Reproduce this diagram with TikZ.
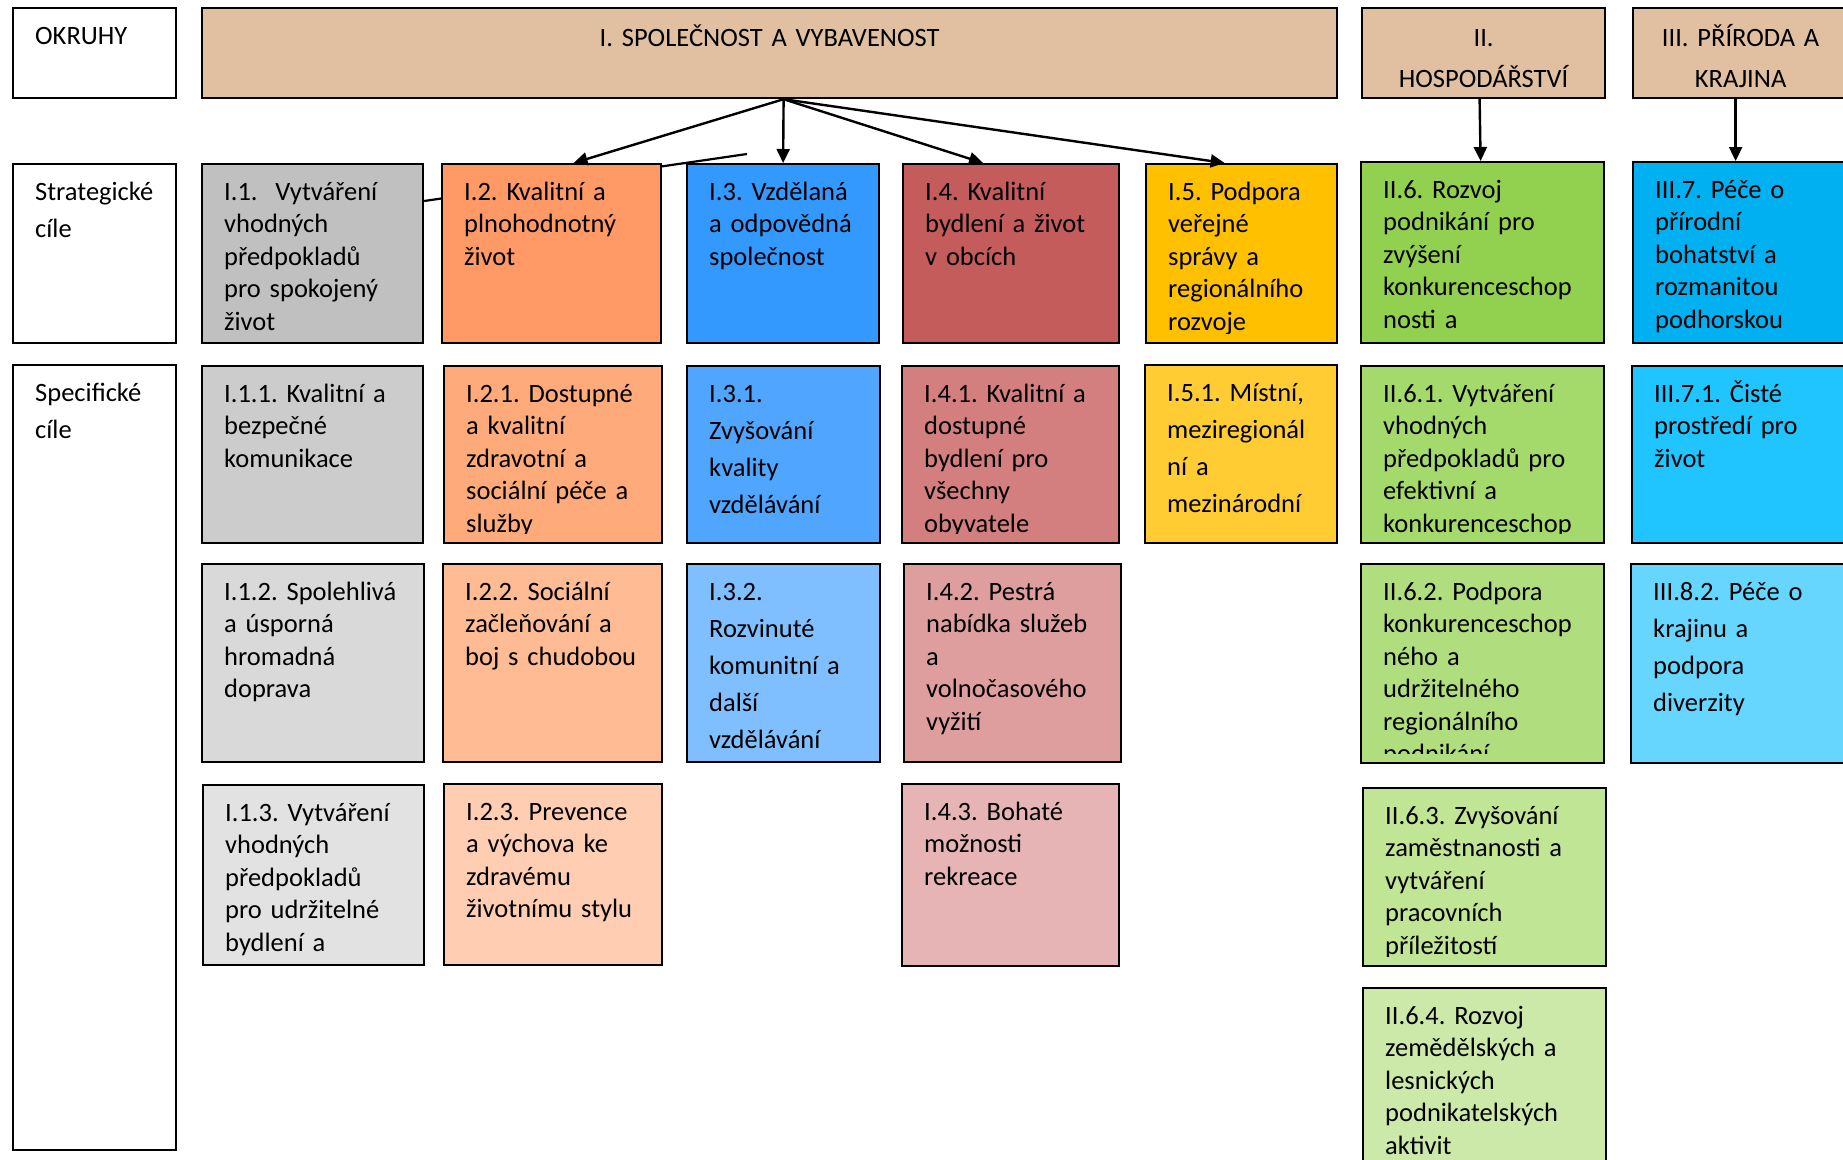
\documentclass[tikz,border=0pt]{standalone}
\usepackage{fontspec}
\setmainfont{Carlito}
\frenchspacing
\usetikzlibrary{arrows.meta}

\definecolor{tan}{RGB}{224,192,160}
\definecolor{gra0}{RGB}{192,192,192}
\definecolor{gra1}{RGB}{204,204,204}
\definecolor{gra2}{RGB}{217,217,217}
\definecolor{gra3}{RGB}{226,226,226}
\definecolor{ora0}{RGB}{255,153,102}
\definecolor{ora1}{RGB}{255,170,122}
\definecolor{ora2}{RGB}{255,187,148}
\definecolor{ora3}{RGB}{255,206,178}
\definecolor{blu0}{RGB}{51,153,255}
\definecolor{blu1}{RGB}{80,166,255}
\definecolor{blu2}{RGB}{128,191,255}
\definecolor{red0}{RGB}{197,92,92}
\definecolor{red1}{RGB}{212,127,127}
\definecolor{red2}{RGB}{223,158,158}
\definecolor{red3}{RGB}{230,180,180}
\definecolor{yel0}{RGB}{255,192,0}
\definecolor{yel1}{RGB}{255,204,51}
\definecolor{gre0}{RGB}{146,208,80}
\definecolor{gre1}{RGB}{164,217,108}
\definecolor{gre2}{RGB}{176,222,126}
\definecolor{gre3}{RGB}{192,229,148}
\definecolor{gre4}{RGB}{204,233,170}
\definecolor{cya0}{RGB}{0,176,240}
\definecolor{cya1}{RGB}{32,196,255}
\definecolor{cya2}{RGB}{102,214,255}

\begin{document}
\begin{tikzpicture}[
    x = 1pt, y = -1pt, % one unit per pixel, y down
    >= {Triangle[length=14pt,width=13pt]}, % arrow head style
    line width = 2.4pt
  ]

  \tikzset{
    box/.style={draw=black, line width=2.2pt, rectangle, inner sep=0pt, anchor=north west},
    goal/.style n args={3}{box, fill=#1,
      path picture={
        \clip ([yshift=10pt]path picture bounding box.south west) rectangle (path picture bounding box.north east);
        \node[anchor=base west, inner sep=0pt, text width=320pt, align=left,
              font=\fontsize{26.5}{#2}\selectfont]
          at ([xshift=21pt,yshift=-36pt]path picture bounding box.north west) {#3};
      }},
    area/.style n args={2}{box, fill=#1,
      path picture={
        \node[anchor=base, inner sep=0pt, text width=400pt, align=center,
              font=\fontsize{26.5}{40.5}\selectfont]
          at ([yshift=-38.5pt]path picture bounding box.north) {#2};
      }}
  }

\useasboundingbox (0,0) rectangle (1843,1159);

% okruhy
\node[goal={white}{37}{\vspace{2.3pt}OKRUHY}, minimum width=163pt, minimum height=90pt] (okruhy) at (12,7) {};
\node[area={tan}{I. SPOLEČNOST A VYBAVENOST}, minimum width=1135pt, minimum height=90pt] (spol) at (201,7) {};
\node[area={tan}{II.\\ HOSPODÁŘSTVÍ}, minimum width=243pt, minimum height=90pt] (hosp) at (1361,7) {};
\node[area={tan}{III. PŘÍRODA A\\ KRAJINA}, minimum width=215pt, minimum height=90pt] (prir) at (1632,7) {};

% strategicke cile
\node[goal={white}{37}{Strategické\\ cíle}, minimum width=163pt, minimum height=179pt] (strat) at (12,163) {};
\node[goal={gra0}{32.6}{I.1.\ \ Vytváření\\ vhodných\\ předpokladů\\ pro spokojený\\ život}, minimum width=221pt, minimum height=179pt] (g1) at (201,163) {};
\coordinate (loose) at (747,154);
\draw[line width=2.2pt] (loose) -- ([yshift=-38pt]g1.north east);
\node[goal={ora0}{32.6}{I.2. Kvalitní a\\ plnohodnotný\\ život}, minimum width=219pt, minimum height=179pt] (g2) at (441,163) {};
\node[goal={blu0}{32.6}{I.3. Vzdělaná\\ a odpovědná\\ společnost}, minimum width=192pt, minimum height=179pt] (g3) at (686,163) {};
\node[goal={red0}{32.6}{I.4. Kvalitní\\ bydlení a život\\ v obcích}, minimum width=216pt, minimum height=179pt] (g4) at (902,163) {};
\node[goal={yel0}{32.6}{I.5. Podpora\\ veřejné\\ správy a\\ regionálního\\ rozvoje}, minimum width=191pt, minimum height=179pt] (g5) at (1145,163) {};
\node[goal={gre0}{32.6}{II.6. Rozvoj\\ podnikání pro\\ zvýšení\\ konkurenceschop\\ nosti a}, minimum width=243pt, minimum height=181pt] (g6) at (1360,161) {};
\node[goal={cya0}{32.6}{III.7. Péče o\\ přírodní\\ bohatství a\\ rozmanitou\\ podhorskou}, minimum width=215pt, minimum height=181pt] (g7) at (1632,161) {};

% specificke cile
\node[goal={white}{37}{Specifické\\ cíle}, minimum width=163pt, minimum height=785pt] (spec) at (12,364) {};

\node[goal={gra1}{32.5}{I.1.1. Kvalitní a\\ bezpečné\\ komunikace}, minimum width=221pt, minimum height=177pt] (g11) at (201,365) {};
\node[goal={ora1}{32.5}{I.2.1. Dostupné\\ a kvalitní\\ zdravotní a\\ sociální péče a\\ služby}, minimum width=218pt, minimum height=177pt] (g21) at (443,365) {};
\node[goal={blu1}{37}{I.3.1.\\ Zvyšování\\ kvality\\ vzdělávání}, minimum width=193pt, minimum height=177pt] (g31) at (686,365) {};
\node[goal={red1}{32.5}{I.4.1. Kvalitní a\\ dostupné\\ bydlení pro\\ všechny\\ obyvatele}, minimum width=217pt, minimum height=177pt] (g41) at (901,365) {};
\node[goal={yel1}{37}{I.5.1. Místní,\\ meziregionál\\ ní a\\ mezinárodní}, minimum width=192pt, minimum height=178pt] (g51) at (1144,364) {};
\node[goal={gre1}{32.5}{II.6.1. Vytváření\\ vhodných\\ předpokladů pro\\ efektivní a\\ konkurenceschop}, minimum width=243pt, minimum height=177pt] (g61) at (1360,365) {};
\node[goal={cya1}{32.5}{III.7.1. Čisté\\ prostředí pro\\ život}, minimum width=216pt, minimum height=177pt] (g71) at (1631,365) {};

\node[goal={gra2}{32.5}{I.1.2. Spolehlivá\\ a úsporná\\ hromadná\\ doprava}, minimum width=222pt, minimum height=198pt] (g12) at (201,563) {};
\node[goal={ora2}{32.5}{I.2.2. Sociální\\ začleňování a\\ boj s chudobou}, minimum width=219pt, minimum height=198pt] (g22) at (442,563) {};
\node[goal={blu2}{37}{I.3.2.\\ Rozvinuté\\ komunitní a\\ další\\ vzdělávání}, minimum width=193pt, minimum height=198pt] (g32) at (686,563) {};
\node[goal={red2}{32.5}{I.4.2. Pestrá\\ nabídka služeb\\ a\\ volnočasového\\ vyžití}, minimum width=217pt, minimum height=198pt] (g42) at (903,563) {};
\node[goal={gre2}{32.5}{II.6.2. Podpora\\ konkurenceschop\\ ného a\\ udržitelného\\ regionálního\\ podnikání}, minimum width=243pt, minimum height=199pt] (g62) at (1360,563) {};
\node[goal={cya2}{37}{III.8.2. Péče o\\ krajinu a\\ podpora\\ diverzity}, minimum width=217pt, minimum height=199pt] (g82) at (1630,563) {};

\node[goal={gra3}{32.5}{I.1.3. Vytváření\\ vhodných\\ předpokladů\\ pro udržitelné\\ bydlení a}, minimum width=221pt, minimum height=180pt] (g13) at (202,784) {};
\node[goal={ora3}{32.5}{I.2.3. Prevence\\ a výchova ke\\ zdravému\\ životnímu stylu}, minimum width=218pt, minimum height=181pt] (g23) at (443,783) {};
\node[goal={red3}{32.5}{I.4.3. Bohaté\\ možnosti\\ rekreace}, minimum width=217pt, minimum height=182pt] (g43) at (901,783) {};
\node[goal={gre3}{32.5}{II.6.3. Zvyšování\\ zaměstnanosti a\\ vytváření\\ pracovních\\ příležitostí}, minimum width=243pt, minimum height=178pt] (g63) at (1362,787) {};
\node[goal={gre4}{32.5}{II.6.4. Rozvoj\\ zemědělských a\\ lesnických\\ podnikatelských\\ aktivit}, minimum width=243pt, minimum height=200pt] (g64) at (1362,987) {};

% vazby
\draw[->] ([xshift=14pt]spol.south) -- ([xshift=22pt]g2.north);
\draw[->] ([xshift=14pt]spol.south) -- (g3.north);
\draw[->] ([xshift=14pt]spol.south) -- ([xshift=-28pt]g4.north);
\draw[->] ([xshift=14pt]spol.south) -- ([xshift=-17pt]g5.north);
\draw[->] ([xshift=-4pt]hosp.south) -- ([xshift=-2pt]g6.north);
\draw[->] ([xshift=-5pt]prir.south) -- ([xshift=-5pt]g7.north);
\end{tikzpicture}
\end{document}
